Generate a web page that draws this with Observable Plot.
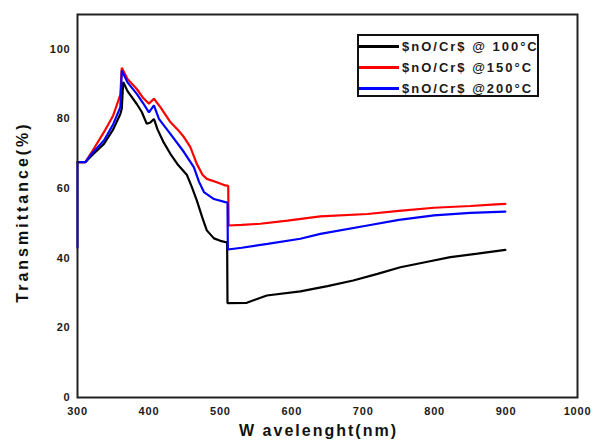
<!DOCTYPE html>
<html>
<head>
<meta charset="utf-8">
<script src="https://cdn.jsdelivr.net/npm/d3@7"></script>
<script src="https://cdn.jsdelivr.net/npm/@observablehq/plot@0.6"></script>
<style>
  html, body { margin: 0; padding: 0; background: #fff; }
  #wrap { position: relative; width: 594px; height: 443px; overflow: hidden; }
  #wrap svg { display: block; }
  #legend {
    position: absolute; left: 357px; top: 34px; width: 178px; height: 59px;
    border: 2px solid #111; background: #fff;
    font-family: "Liberation Sans", Arial, sans-serif; font-weight: bold; font-size: 13px;
    letter-spacing: 2px; color: #1a1a1a;
  }
  .row { position: absolute; left: 0; height: 20px; display: flex; align-items: center; white-space: nowrap; }
  .sw { width: 40px; height: 3px; margin-right: 3px; }
</style>
</head>
<body>
<div id="wrap"></div>
<script>
// ---- data ----
const seriesNames = ["$nO/Cr$ @ 100°C", "$nO/Cr$ @150°C", "$nO/Cr$ @200°C"];
const seriesColors = ["#000000", "#ff0000", "#0000ff"];

const wl100 = [300, 311, 320, 337, 350, 360, 362, 364, 370, 383, 390, 397, 402, 407, 412, 420, 430, 440, 453, 460, 467, 475, 481, 491, 500, 508, 509.5, 510, 537, 565, 612, 650, 686, 720, 752, 790, 822, 860, 899];
const tr100 = [67.6, 67.6, 69.5, 72.8, 77, 81.4, 83, 90.6, 88, 84.3, 82, 78.6, 79, 80, 77, 73.5, 70, 67, 64, 60.5, 56.6, 51.5, 48, 45.7, 45, 44.6, 44.6, 27.1, 27.2, 29.3, 30.5, 32, 33.6, 35.5, 37.4, 39, 40.3, 41.3, 42.4];

const wl150 = [300, 311, 320, 337, 350, 358, 360, 362, 370, 383, 392, 400, 407, 416, 430, 440, 449, 458, 467, 475, 481, 495, 507, 511, 511.5, 530, 556, 594, 640, 706, 750, 799, 850, 880, 899];
const tr150 = [67.6, 67.6, 70.5, 76.2, 81, 85.8, 87, 94.7, 91.5, 88.6, 86, 84.4, 85.8, 83.4, 79.1, 77, 74.8, 71.9, 67.1, 64, 62.8, 61.8, 60.9, 60.8, 49.4, 49.6, 49.9, 50.8, 52, 52.7, 53.6, 54.5, 55, 55.4, 55.6];

const wl200 = [300, 300, 311, 320, 337, 350, 360, 362, 370, 383, 392, 400, 407, 414, 430, 449, 463, 470, 477, 491, 507, 510, 510.5, 530, 566, 612, 640, 706, 750, 799, 850, 899];
const tr200 = [43, 67.6, 67.6, 70, 73.8, 78.5, 83.4, 93.9, 90.5, 87.2, 84.5, 81.9, 83.9, 80, 75.7, 70.5, 66.1, 62, 59, 57, 56.1, 56, 42.5, 43, 44.1, 45.6, 47, 49.4, 51, 52.3, 53, 53.4];

const xTicks = [300, 400, 500, 600, 700, 800, 900, 1000];
const yTicks = [0, 20, 40, 60, 80, 100];
const xTitle = "W avelenght(nm)";
const yTitle = "Transmittance(%)";

// ---- build table ----
const rows = [];
[[wl100, tr100], [wl150, tr150], [wl200, tr200]].forEach(([w, t], i) => {
  w.forEach((x, j) => rows.push({series: seriesNames[i], wl: x, t: t[j]}));
});

const chart = Plot.plot({
  width: 594,
  height: 443,
  marginLeft: 77,
  marginRight: 17,
  marginTop: 14,
  marginBottom: 46,
  style: {fontFamily: "'Liberation Sans', Arial, sans-serif", fontWeight: "bold", fontSize: "11px", color: "#1a1a1a", background: "#fff"},
  x: {domain: [300, 1000]},
  y: {domain: [0, 110]},
  color: {domain: seriesNames, range: seriesColors},
  marks: [
    Plot.axisX({ticks: xTicks, tickSize: 0, tickPadding: 10, label: null, tickFormat: d => String(d)}),
    Plot.axisY({ticks: yTicks, tickSize: 0, tickPadding: 7, label: null, tickFormat: d => String(d)}),
    Plot.line(rows, {x: "wl", y: "t", z: "series", stroke: "series", strokeWidth: 2.2, strokeLinejoin: "miter"}),
    Plot.frame({stroke: "#222", strokeWidth: 2}),
    Plot.text([yTitle], {text: d => d, frameAnchor: "left", dx: -55, dy: 6, rotate: -90, textAnchor: "middle", lineAnchor: "middle", fontSize: 16, fontWeight: "bold", fill: "#111"}),
    Plot.text([xTitle], {text: d => d, frameAnchor: "bottom", dx: -9, dy: 33, textAnchor: "middle", lineAnchor: "middle", fontSize: 16, fontWeight: "bold", fill: "#111"})
  ]
});

// letter spacing for titles and tick labels (visual stretching in the reference)
d3.select(chart).selectAll("text").each(function() {
  const s = d3.select(this);
  const t = s.text();
  if (t === yTitle) s.style("letter-spacing", "3px");
  else if (t === xTitle) s.style("letter-spacing", "2px");
  else s.style("letter-spacing", "0.8px");
});

const wrap = document.getElementById("wrap");
wrap.appendChild(chart);

// legend
const legend = document.createElement("div");
legend.id = "legend";
const rowTops = [0, 21, 42];
seriesNames.forEach((name, i) => {
  const r = document.createElement("div");
  r.className = "row";
  r.style.top = rowTops[i] + "px";
  const sw = document.createElement("div");
  sw.className = "sw";
  sw.style.background = seriesColors[i];
  const tx = document.createElement("span");
  tx.textContent = name;
  r.appendChild(sw);
  r.appendChild(tx);
  legend.appendChild(r);
});
wrap.appendChild(legend);
</script>
</body>
</html>
